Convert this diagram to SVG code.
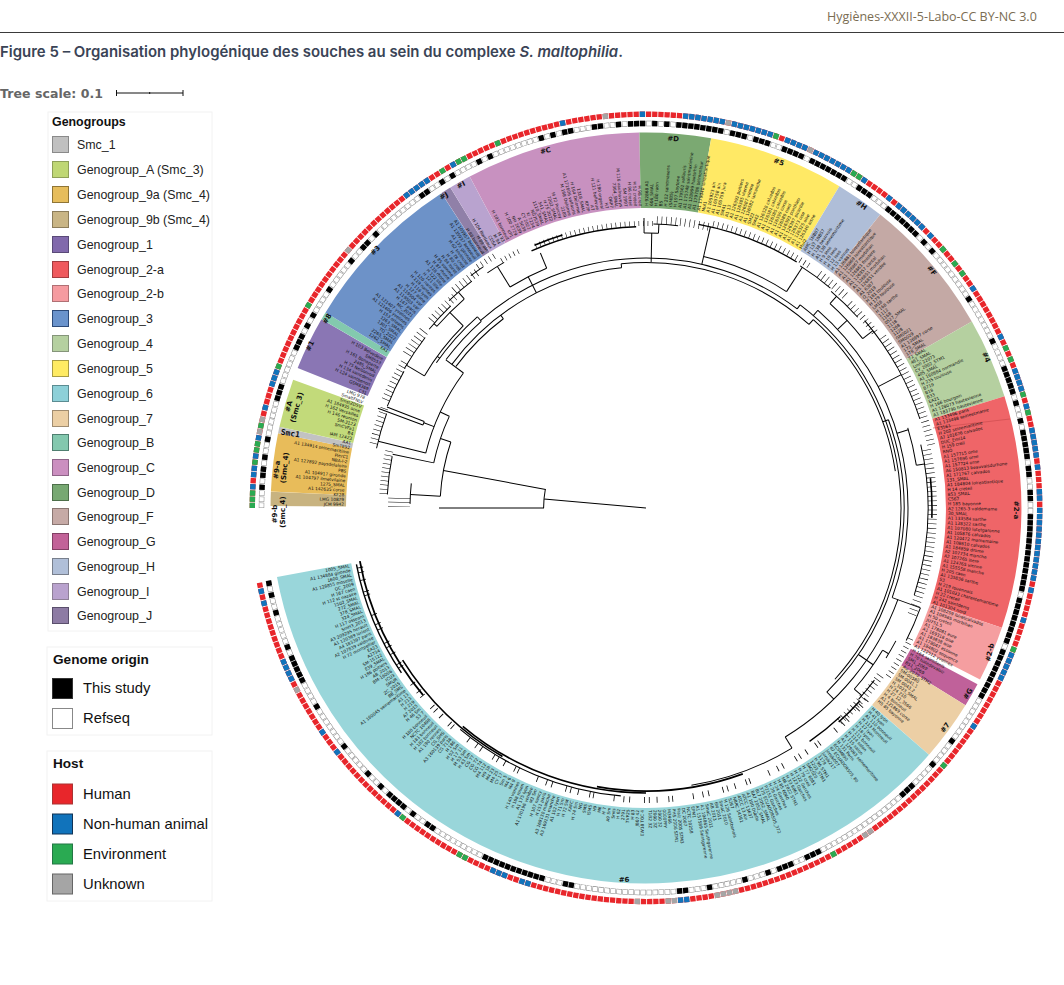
<svg xmlns="http://www.w3.org/2000/svg" width="1064" height="985" viewBox="0 0 1064 985">
<style>
text{font-family:"Liberation Sans",Arial,sans-serif}
.lg{font-size:12.4px;fill:#222}
.lt{font-size:12.4px;font-weight:700;fill:#111}
.lh{font-size:14.8px;fill:#111}
.lb{fill:#fff;stroke:#f2f2f2}
.w{fill:none;stroke-width:75.5}
.n{font-family:"DejaVu Sans",sans-serif;font-size:7px;font-weight:700;fill:#111;text-anchor:middle}
.a,.a circle,.a path{fill:none;stroke:#000;stroke-width:1}
.l text{font-family:"DejaVu Sans",sans-serif;font-size:4.3px;fill:#111}
.e text{text-anchor:end}
.r{fill:none;stroke-width:5.4}
</style>
<rect width="1064" height="985" fill="#fff"/>
<g id="header">
<text x="827" y="21" style="font-family:'Open Sans',sans-serif;font-size:12.5px;fill:#7a6c52">Hygiènes-XXXII-5-Labo-CC BY-NC 3.0</text>
<path d="M0 32.5H1064" stroke="#3a3a3a" stroke-width="1"/>
<text x="0" y="57" style="font-family:Inter,sans-serif;font-size:15px;font-weight:600;fill:#3a4456" textLength="623" lengthAdjust="spacingAndGlyphs">Figure 5 – Organisation phylogénique des souches au sein du complexe <tspan font-style="italic">S. maltophilia</tspan>.</text>
</g>
<g id="tree-scale">
<text x="0" y="98" style="font-family:'DejaVu Sans',sans-serif;font-size:12.5px;font-weight:700;fill:#666" textLength="103">Tree scale: 0.1</text>
<path d="M116.5 90v6M183 90v6M116.5 93H183M149.7 92v2" fill="none" stroke="#111"/>
</g>
<g id="legend-genogroups">
<rect class="lb" x="48" y="112" width="164" height="519"/>
<text class="lt" x="52" y="126">Genogroups</text>
<g stroke-width="1">
<g id="lg-smc1"><rect x="52.5" y="136.5" width="16" height="16" fill="#c0c0c0" stroke="#8a8a8a"/><text class="lg" x="77" y="149">Smc_1</text></g>
<g id="lg-a"><rect x="52.5" y="161.5" width="16" height="16" fill="#bfd774" stroke="#8ea058"/><text class="lg" x="77" y="174">Genogroup_A (Smc_3)</text></g>
<g id="lg-9a"><rect x="52.5" y="186.5" width="16" height="16" fill="#e6bd5c" stroke="#8f7536"/><text class="lg" x="77" y="199">Genogroup_9a (Smc_4)</text></g>
<g id="lg-9b"><rect x="52.5" y="211.5" width="16" height="16" fill="#c9b585" stroke="#8c7d5b"/><text class="lg" x="77" y="224">Genogroup_9b (Smc_4)</text></g>
<g id="lg-1"><rect x="52.5" y="236.5" width="16" height="16" fill="#8169ac" stroke="#5a4a78"/><text class="lg" x="77" y="249">Genogroup_1</text></g>
<g id="lg-2a"><rect x="52.5" y="261.5" width="16" height="16" fill="#ef5a5e" stroke="#a33d40"/><text class="lg" x="77" y="274">Genogroup_2-a</text></g>
<g id="lg-2b"><rect x="52.5" y="285.5" width="16" height="16" fill="#f59ba0" stroke="#b07074"/><text class="lg" x="77" y="298">Genogroup_2-b</text></g>
<g id="lg-3"><rect x="52.5" y="310.5" width="16" height="16" fill="#6a93cc" stroke="#2d4a78"/><text class="lg" x="77" y="323">Genogroup_3</text></g>
<g id="lg-4"><rect x="52.5" y="335.5" width="16" height="16" fill="#b5d0a0" stroke="#85957a"/><text class="lg" x="77" y="348">Genogroup_4</text></g>
<g id="lg-5"><rect x="52.5" y="360.5" width="16" height="16" fill="#ffeb63" stroke="#a89c44"/><text class="lg" x="77" y="373">Genogroup_5</text></g>
<g id="lg-6"><rect x="52.5" y="385.5" width="16" height="16" fill="#8dd0d8" stroke="#5b8c92"/><text class="lg" x="77" y="398">Genogroup_6</text></g>
<g id="lg-7"><rect x="52.5" y="410.5" width="16" height="16" fill="#eccfa4" stroke="#a08c70"/><text class="lg" x="77" y="423">Genogroup_7</text></g>
<g id="lg-b"><rect x="52.5" y="434.5" width="16" height="16" fill="#83c8ae" stroke="#4f7f70"/><text class="lg" x="77" y="447">Genogroup_B</text></g>
<g id="lg-c"><rect x="52.5" y="459.5" width="16" height="16" fill="#cb8fc0" stroke="#8e6488"/><text class="lg" x="77" y="472">Genogroup_C</text></g>
<g id="lg-d"><rect x="52.5" y="484.5" width="16" height="16" fill="#77a872" stroke="#4d6f4a"/><text class="lg" x="77" y="497">Genogroup_D</text></g>
<g id="lg-f"><rect x="52.5" y="508.5" width="16" height="16" fill="#c6aaa6" stroke="#8a7672"/><text class="lg" x="77" y="521">Genogroup_F</text></g>
<g id="lg-g"><rect x="52.5" y="533.5" width="16" height="16" fill="#c26298" stroke="#823f64"/><text class="lg" x="77" y="546">Genogroup_G</text></g>
<g id="lg-h"><rect x="52.5" y="558.5" width="16" height="16" fill="#b0bfd8" stroke="#787f8c"/><text class="lg" x="77" y="571">Genogroup_H</text></g>
<g id="lg-i"><rect x="52.5" y="583.5" width="16" height="16" fill="#b9a2ce" stroke="#8f8098"/><text class="lg" x="77" y="596">Genogroup_I</text></g>
<g id="lg-j"><rect x="52.5" y="607.5" width="16" height="16" fill="#8d7ba4" stroke="#5a4f6c"/><text class="lg" x="77" y="620">Genogroup_J</text></g>
</g>
</g>
<g id="legend-origin">
<rect class="lb" x="47" y="647" width="165" height="88"/>
<text x="53" y="664" style="font-size:13.6px;font-weight:700;fill:#111">Genome origin</text>
<g id="lg-study"><rect x="52.5" y="678.5" width="20" height="20" fill="#000" stroke="#333"/><text class="lh" x="83" y="693">This study</text></g>
<g id="lg-refseq"><rect x="52.5" y="708.5" width="20" height="20" fill="#fff" stroke="#888"/><text class="lh" x="83" y="723">Refseq</text></g>
</g>
<g id="legend-host">
<rect class="lb" x="47" y="751" width="165" height="150"/>
<text x="53" y="768" style="font-size:13.6px;font-weight:700;fill:#111">Host</text>
<g id="lg-human"><rect x="52.5" y="784" width="20" height="20" fill="#e8262b" stroke="#a33"/><text class="lh" x="83" y="799">Human</text></g>
<g id="lg-animal"><rect x="52.5" y="814" width="20" height="20" fill="#1173bb" stroke="#135"/><text class="lh" x="83" y="829">Non-human animal</text></g>
<g id="lg-env"><rect x="52.5" y="844" width="20" height="20" fill="#2aaa52" stroke="#274"/><text class="lh" x="83" y="859">Environment</text></g>
<g id="lg-unknown"><rect x="52.5" y="874" width="20" height="20" fill="#a5a5a5" stroke="#666"/><text class="lh" x="83" y="889">Unknown</text></g>
</g>
<g id="rings">
<g id="host-ring" class="r">
<path d="M252.3 508A393.7 393.7 0 1 1 259.3 581.8" pathLength="388" class="r" stroke="#e8262b" stroke-dasharray=".86 .14"/>
<path d="M252.3 508A393.7 393.7 0 1 1 259.3 581.8" pathLength="388" class="r" stroke="#1173bb" stroke-dasharray="0 3 .86 1.14 .86 .14 .86 1.14 .86 2.14 .86 4.14 .86 3.14 .86 .14 .86 .14 .86 35.14 .86 .14 .86 .14 .86 .14 .86 .14 .86 4.14 .86 18.14 .86 12.14 .86 6.14 .86 .14 .86 .14 .86 .14 .86 .14 .86 .14 .86 .14 .86 1.14 .86 .14 .86 .14 .86 .14 .86 .14 .86 .14 .86 .14 .86 2.14 .86 .14 .86 .14 .86 .14 .86 1.14 .86 .14 .86 .14 .86 .14 .86 .14 .86 .14 .86 .14 .86 2.14 .86 4.14 .86 1.14 .86 .14 .86 .14 .86 .14 .86 .14 .86 .14 .86 1.14 .86 10.14 .86 8.14 .86 5.14 .86 .14 .86 .14 .86 .14 .86 2.14 .86 3.14 .86 .14 .86 .14 .86 .14 .86 .14 .86 1.14 .86 3.14 .86 .14 .86 1.14 .86 .14 .86 .14 .86 .14 .86 .14 .86 .14 .86 .14 .86 .14 .86 .14 .86 .14 .86 .14 .86 .14 .86 1.14 .86 4.14 .86 5.14 .86 .14 .86 .14 .86 .14 .86 .14 .86 8.14 .86 55.14 .86 .14 .86 24.14 .86 .14 .86 2.14 .86 .14 .86 .14 .86 17.14 .86 13.14 .86 3.14 .86 9.14 .86 .14 .86 .14 .86 .14 .86 9.14 .86 1.14 .86 999"/>
<path d="M252.3 508A393.7 393.7 0 1 1 259.3 581.8" pathLength="388" class="r" stroke="#2aaa52" stroke-dasharray=".86 .14 .86 .14 .86 4.14 .86 1.14 .86 .14 .86 2.14 .86 9.14 .86 10.14 .86 30.14 .86 2.14 .86 .14 .86 5.14 .86 45.14 .86 13.14 .86 .14 .86 17.14 .86 2.14 .86 1.14 .86 13.14 .86 1.14 .86 5.14 .86 2.14 .86 38.14 .86 21.14 .86 22.14 .86 61.14 .86 .14 .86 10.14 .86 999"/>
<path d="M252.3 508A393.7 393.7 0 1 1 259.3 581.8" pathLength="388" class="r" stroke="#a5a5a5" stroke-dasharray="0 12 .86 1.14 .86 30.14 .86 47.14 .86 19.14 .86 13.14 .86 133.14 .86 .14 .86 22.14 .86 .14 .86 .14 .86 .14 .86 6.14 .86 .14 .86 4.14 .86 67.14 .86 999"/>
</g>
<g id="origin-ring">
<path d="M261.5 508A384.5 384.5 0 1 1 268.3 580" pathLength="388" fill="none" stroke="#8a8a8a" stroke-width="5.4" stroke-dasharray=".9 .1"/>
<path d="M261.5 508A384.5 384.5 0 1 1 268.3 580" pathLength="388" fill="none" stroke="#fff" stroke-width="4.4" stroke-dasharray=".74 .26" stroke-dashoffset="-.08"/>
<path d="M261.5 508A384.5 384.5 0 1 1 268.3 580" pathLength="388" fill="none" stroke="#000" stroke-width="5.4" stroke-dasharray="0 3 .86 1.14 .86 .14 .86 1.14 .86 2.14 .86 6.14 .86 .14 .86 .14 .86 6.14 .86 .14 .86 .14 .86 1.14 .86 1.14 .86 4.14 .86 5.14 .86 2.14 .86 .14 .86 1.14 .86 9.14 .86 .14 .86 2.14 .86 1.14 .86 4.14 .86 1.14 .86 8.14 .86 1.14 .86 1.14 .86 .14 .86 3.14 .86 .14 .86 2.14 .86 1.14 .86 .14 .86 .14 .86 1.14 .86 1.14 .86 1.14 .86 .14 .86 .14 .86 .14 .86 .14 .86 .14 .86 .14 .86 .14 .86 1.14 .86 .14 .86 .14 .86 1.14 .86 .14 .86 .14 .86 2.14 .86 .14 .86 .14 .86 .14 .86 1.14 .86 .14 .86 .14 .86 .14 .86 .14 .86 .14 .86 .14 .86 2.14 .86 .14 .86 .14 .86 3.14 .86 .14 .86 .14 .86 .14 .86 .14 .86 .14 .86 .14 .86 1.14 .86 1.14 .86 9.14 .86 7.14 .86 4.14 .86 .14 .86 .14 .86 .14 .86 .14 .86 1.14 .86 2.14 .86 1.14 .86 .14 .86 .14 .86 .14 .86 .14 .86 1.14 .86 .14 .86 2.14 .86 .14 .86 2.14 .86 .14 .86 .14 .86 .14 .86 .14 .86 .14 .86 .14 .86 .14 .86 .14 .86 .14 .86 .14 .86 .14 .86 .14 .86 1.14 .86 .14 .86 .14 .86 .14 .86 .14 .86 .14 .86 .14 .86 .14 .86 1.14 .86 .14 .86 .14 .86 .14 .86 .14 .86 .14 .86 .14 .86 .14 .86 .14 .86 8.14 .86 4.14 .86 4.14 .86 .14 .86 .14 .86 16.14 .86 .14 .86 .14 .86 2.14 .86 .14 .86 .14 .86 1.14 .86 3.14 .86 5.14 .86 3.14 .86 .14 .86 17.14 .86 .14 .86 3.14 .86 .14 .86 .14 .86 .14 .86 .14 .86 .14 .86 .14 .86 .14 .86 .14 .86 .14 .86 .14 .86 9.14 .86 .14 .86 2.14 .86 1.14 .86 .14 .86 .14 .86 .14 .86 1.14 .86 2.14 .86 5.14 .86 7.14 .86 4.14 .86 .14 .86 .14 .86 .14 .86 .14 .86 1.14 .86 5.14 .86 2.14 .86 1.14 .86 999"/>
</g>
</g>
<g transform="translate(646 508)">
<g id="clades">
<g id="clade-9b"><circle class="w" r="337.7" pathLength="360" stroke="#c8b380" stroke-dasharray="2.2 999" transform="rotate(180.3)"/></g>
<g id="clade-9a"><circle class="w" r="337.7" pathLength="360" stroke="#e8bc5a" stroke-dasharray="9 999" transform="rotate(182.5)"/></g>
<g id="clade-smc1"><circle class="w" r="337.7" pathLength="360" stroke="#c2c2c2" stroke-dasharray="1 999" transform="rotate(191.5)"/></g>
<g id="clade-a"><circle class="w" r="337.7" pathLength="360" stroke="#c2da7a" stroke-dasharray="7.5 999" transform="rotate(192.5)"/></g>
<g id="clade-1"><circle class="w" r="337.7" pathLength="360" stroke="#8a76b4" stroke-dasharray="8.3 999" transform="rotate(201.9)"/></g>
<g id="clade-b"><circle class="w" r="337.7" pathLength="360" stroke="#83c9ae" stroke-dasharray="1.2 999" transform="rotate(210.2)"/></g>
<g id="clade-3"><circle class="w" r="337.7" pathLength="360" stroke="#6d92c8" stroke-dasharray="25.6 999" transform="rotate(211.4)"/></g>
<g id="clade-j"><circle class="w" r="337.7" pathLength="360" stroke="#9080a8" stroke-dasharray="1.6 999" transform="rotate(237)"/></g>
<g id="clade-i"><circle class="w" r="337.7" pathLength="360" stroke="#b9a3cf" stroke-dasharray="3.4 999" transform="rotate(238.6)"/></g>
<g id="clade-c"><circle class="w" r="337.7" pathLength="360" stroke="#c891c0" stroke-dasharray="27 999" transform="rotate(242)"/></g>
<g id="clade-d"><circle class="w" r="337.7" pathLength="360" stroke="#7ba972" stroke-dasharray="11 999" transform="rotate(269)"/></g>
<g id="clade-5"><circle class="w" r="337.7" pathLength="360" stroke="#ffe965" stroke-dasharray="21 999" transform="rotate(280)"/></g>
<g id="clade-h"><circle class="w" r="337.7" pathLength="360" stroke="#afbed8" stroke-dasharray="7.6 999" transform="rotate(301)"/></g>
<g id="clade-f"><circle class="w" r="337.7" pathLength="360" stroke="#c4a9a5" stroke-dasharray="21.6 999" transform="rotate(308.6)"/></g>
<g id="clade-4"><circle class="w" r="337.7" pathLength="360" stroke="#b5d0a0" stroke-dasharray="12.5 999" transform="rotate(330.2)"/></g>
<g id="clade-2a"><circle class="w" r="337.7" pathLength="360" stroke="#ef6568" stroke-dasharray="35.9 999" transform="rotate(342.7)"/><path d="M287 -80L364 -89" stroke="#c8484c" stroke-width=".6"/></g>
<g id="clade-2b"><circle class="w" r="337.7" pathLength="360" stroke="#f59ea0" stroke-dasharray="8.6 999" transform="rotate(18.6)"/></g>
<g id="clade-g"><circle class="w" r="337.7" pathLength="360" stroke="#c0619a" stroke-dasharray="3.7 999" transform="rotate(28)"/></g>
<g id="clade-7"><circle class="w" r="337.7" pathLength="360" stroke="#eccfa5" stroke-dasharray="9.4 999" transform="rotate(31.7)"/></g>
<g id="clade-6"><circle class="w" r="337.7" pathLength="360" stroke="#99d6da" stroke-dasharray="128.3 999" transform="rotate(41.1)"/></g>
</g>
<g id="connectors" class="a">
<path d="M0 0H102.4" stroke-width="1.1" transform="rotate(185)"/><circle r="102.4" pathLength="360" stroke-dasharray="10.6 999" transform="rotate(180)"/><path d="M102 0H207" transform="rotate(180)"/><path d="M102 0H206" transform="rotate(190.5)"/>
<circle r="206" pathLength="360" stroke-dasharray="15.4 999" transform="rotate(183.3)"/><path d="M206 0H236" transform="rotate(183.3)"/><path d="M206 0H217" transform="rotate(198.7)"/>
<circle r="217" pathLength="360" stroke-dasharray="13 999" transform="rotate(192)"/><path d="M217 0H259" transform="rotate(192)"/><path d="M217 0H227" transform="rotate(205)"/>
<circle r="227" pathLength="360" stroke-dasharray="22.4 999" transform="rotate(194)"/><path d="M227 0H276" transform="rotate(194)"/><path d="M227 0H238" transform="rotate(201)"/><circle r="238" pathLength="360" stroke-dasharray=".9 999" transform="rotate(200.4)"/><path d="M238 0H286" transform="rotate(200.4)"/><path d="M238 0H278" transform="rotate(201.3)"/>
<path d="M227 0H249" transform="rotate(216.5)"/><circle r="241.5" pathLength="360" stroke-dasharray="47.7 999" transform="rotate(216.5)"/><circle r="237" pathLength="360" stroke-dasharray="16.3 999" transform="rotate(216.7)"/><path d="M237 0H241.5" transform="rotate(233)"/><path d="M241.5 0H245.5" transform="rotate(264.2)"/>
<circle r="255" pathLength="360" stroke-dasharray="13.9 999" transform="rotate(214.7)"/><circle r="249" pathLength="360" stroke-dasharray="12 999" transform="rotate(216.6)"/><path d="M249 0H255" transform="rotate(228.6)"/><path d="M255 0H258" transform="rotate(216)"/>
<circle r="258" pathLength="360" stroke-dasharray="14.1 999" transform="rotate(210.8)"/><path d="M258 0H279" transform="rotate(210.8)"/><path d="M258 0H277" transform="rotate(224.9)"/>
<circle r="277" pathLength="360" stroke-dasharray="8 999" transform="rotate(221)"/><path d="M277 0H281" transform="rotate(221)"/><path d="M277 0H286" transform="rotate(229)"/>
<circle r="236" pathLength="360" stroke-dasharray="5 999" transform="rotate(181)"/><circle r="259" pathLength="360" stroke-dasharray="8.5 999" transform="rotate(183)"/><circle r="276" pathLength="360" stroke-dasharray="7.5 999" transform="rotate(192.5)"/><circle r="278" pathLength="360" stroke-dasharray="8 999" transform="rotate(201.5)"/><circle r="279" pathLength="360" stroke-dasharray="7.7 999" transform="rotate(210)"/><circle r="281" pathLength="360" stroke-dasharray="6.5 999" transform="rotate(219.5)"/><circle r="286" pathLength="360" stroke-dasharray="6 999" transform="rotate(226.5)"/><circle r="291" pathLength="360" stroke-dasharray="3 999" transform="rotate(233)"/>
<path d="M241.5 0H259.5" transform="rotate(243)"/><circle r="259.5" pathLength="360" stroke-dasharray="9.1 999" transform="rotate(238.4)"/><path d="M259.5 0H283.6" transform="rotate(238.4)"/><circle r="283.6" pathLength="360" stroke-dasharray="4 999" transform="rotate(236)"/><path d="M259.5 0H276" transform="rotate(247.5)"/>
<circle r="281.5" pathLength="360" stroke-dasharray="22 999" style="stroke-width:1.5" transform="rotate(246)"/><circle r="285.5" pathLength="360" stroke-dasharray="6 999" style="stroke-width:1.6" transform="rotate(247)"/>
<circle r="250" pathLength="360" stroke-dasharray="78.6 999" transform="rotate(228.6)"/><circle r="245.5" pathLength="360" stroke-dasharray="47.4 999" transform="rotate(264.2)"/><path d="M250 0H255" transform="rotate(307.2)"/><path d="M245.5 0H252" transform="rotate(311.6)"/>
<path d="M246 0H275" transform="rotate(271.2)"/><circle r="275" pathLength="360" stroke-dasharray="3 999" transform="rotate(269.6)"/><path d="M275 0H290" transform="rotate(269.6)"/><path d="M275 0H284" transform="rotate(272.6)"/><circle r="284" pathLength="360" stroke-dasharray="5 999" transform="rotate(271.5)"/>
<path d="M250 0H288.5" transform="rotate(282.9)"/><circle r="258" pathLength="360" stroke-dasharray="20.1 999" transform="rotate(282.9)"/><circle r="288.5" pathLength="360" stroke-dasharray="21 999" style="stroke-width:1.3" transform="rotate(280.5)"/>
<path d="M258 0H287" transform="rotate(303)"/><circle r="287" pathLength="360" stroke-dasharray="7.5 999" transform="rotate(302.5)"/>
<circle r="252" pathLength="360" stroke-dasharray="40 999" transform="rotate(311.6)"/><circle r="255" pathLength="360" stroke-dasharray="95 999" transform="rotate(307.2)"/><circle r="258" pathLength="360" stroke-dasharray="65.5 999" transform="rotate(340)"/><path d="M252 0H258" transform="rotate(340)"/><circle r="262" pathLength="360" stroke-dasharray="69 999" transform="rotate(311)"/><path d="M255 0H262" transform="rotate(311)"/><path d="M262 0H292" transform="rotate(20)"/><circle r="292" pathLength="360" stroke-dasharray="7 999" transform="rotate(20)"/>
<path d="M262 0H275" transform="rotate(317)"/><circle r="275" pathLength="360" stroke-dasharray="10 999" transform="rotate(312)"/><path d="M275 0H285" transform="rotate(312)"/><path d="M275 0H288" transform="rotate(322)"/><circle r="285" pathLength="360" stroke-dasharray="7.5 999" transform="rotate(310.5)"/><circle r="288" pathLength="360" stroke-dasharray="11.6 999" transform="rotate(319.4)"/>
<path d="M262 0H288" transform="rotate(332.4)"/><circle r="288" pathLength="360" stroke-dasharray="11 999" transform="rotate(331)"/>
<path d="M262 0H273.7" transform="rotate(343.4)"/><circle r="273.7" pathLength="360" stroke-dasharray="8 999" transform="rotate(343)"/><path d="M273.7 0H282" transform="rotate(351)"/><circle r="282" pathLength="360" stroke-dasharray="31 999" transform="rotate(347)"/><circle r="286" pathLength="360" stroke-dasharray="8 999" style="stroke-width:1.6" transform="rotate(354)"/>
<path d="M258 0H268" transform="rotate(45.5)"/><circle r="268" pathLength="360" stroke-dasharray="38.7 999" transform="rotate(20)"/><path d="M268 0H281" transform="rotate(58.7)"/>
<path d="M258 0H276" transform="rotate(34.6)"/><circle r="276" pathLength="360" stroke-dasharray="10 999" transform="rotate(31)"/><path d="M276 0H283" transform="rotate(31)"/><circle r="283" pathLength="360" stroke-dasharray="4 999" transform="rotate(28)"/><path d="M276 0H286" transform="rotate(41)"/><circle r="286" pathLength="360" stroke-dasharray="5 999" transform="rotate(37)"/>
<circle r="288" pathLength="360" stroke-dasharray="6 999" style="stroke-width:1.6" transform="rotate(42)"/><circle r="285" pathLength="360" stroke-dasharray="8 999" style="stroke-width:1.3" transform="rotate(47)"/>
<circle r="281" pathLength="360" stroke-dasharray="22 999" transform="rotate(58.7)"/><circle r="283" pathLength="360" stroke-dasharray="30 999" style="stroke-width:1.8" transform="rotate(70)"/><circle r="285" pathLength="360" stroke-dasharray="40 999" style="stroke-width:1.6" transform="rotate(90)"/><circle r="287" pathLength="360" stroke-dasharray="28 999" style="stroke-width:1.6" transform="rotate(120)"/><circle r="291" pathLength="360" stroke-dasharray="29.5 999" style="stroke-width:1.8" transform="rotate(140)"/><circle r="295" pathLength="360" stroke-dasharray="23 999" style="stroke-width:1.4" transform="rotate(146)"/><circle r="289" pathLength="360" stroke-dasharray="35 999" style="stroke-width:1.2" transform="rotate(95)"/>
<path d="M866.4 699.6A292 292 0 0 1 359.4 563.7" transform="translate(-646 -508)" stroke-dasharray=".8 7 .8 4 .8 14 .8 5 .8 9 .8 20 .8 3 .8 11" style="stroke-width:6"/>
<g id="combs">
<circle r="247" style="stroke-width:22" pathLength="388" transform="rotate(180)" stroke-dasharray="0 .37 .12 .88 .12 .88 .12 999"/>
<circle r="263" style="stroke-width:8" pathLength="388" transform="rotate(180)" stroke-dasharray="0 3.37 .12 .88 .12 .88 .12 .88 .12 .88 .12 .88 .12 .88 .12 .88 .12 .88 .12 .88 .12 .88 .12 999"/>
<circle r="280" style="stroke-width:8" pathLength="388" transform="rotate(180)" stroke-dasharray="0 14.37 .12 .88 .12 .88 .12 .88 .12 .88 .12 .88 .12 .88 .12 .88 .12 .88 .12 999"/>
<circle r="282" style="stroke-width:8" pathLength="388" transform="rotate(180)" stroke-dasharray="0 24.37 .12 .88 .12 .88 .12 .88 .12 .88 .12 .88 .12 .88 .12 .88 .12 .88 .12 .88 .12 999"/>
<circle r="284" style="stroke-width:10" pathLength="388" transform="rotate(180)" stroke-dasharray="0 35.37 .12 .88 .12 .88 .12 .88 .12 .88 .12 .88 .12 .88 .12 999"/>
<circle r="285" style="stroke-width:8" pathLength="388" transform="rotate(180)" stroke-dasharray="0 44.37 .12 .88 .12 .88 .12 .88 .12 .88 .12 .88 .12 .88 .12 .88 .12 999"/>
<circle r="290" style="stroke-width:8" pathLength="388" transform="rotate(180)" stroke-dasharray="0 52.37 .12 .88 .12 .88 .12 .88 .12 .88 .12 .88 .12 .88 .12 999"/>
<circle r="294" style="stroke-width:6" pathLength="388" transform="rotate(180)" stroke-dasharray="0 59.37 .12 .88 .12 .88 .12 .88 .12 .88 .12 999"/>
<circle r="286.5" style="stroke-width:5" pathLength="388" transform="rotate(180)" stroke-dasharray="0 64.37 .12 .88 .12 .88 .12 .88 .12 .88 .12 999"/>
<circle r="284.5" style="stroke-width:5" pathLength="388" transform="rotate(180)" stroke-dasharray="0 72.37 .12 .88 .12 .88 .12 .88 .12 .88 .12 .88 .12 .88 .12 .88 .12 .88 .12 .88 .12 .88 .12 .88 .12 .88 .12 .88 .12 .88 .12 .88 .12 .88 .12 .88 .12 .88 .12 .88 .12 .88 .12 .88 .12 .88 .12 .88 .12 .88 .12 .88 .12 .88 .12 999"/>
<circle r="288" style="stroke-width:8" pathLength="388" transform="rotate(180)" stroke-dasharray="0 99.37 .12 .88 .12 .88 .12 .88 .12 .88 .12 .88 .12 .88 .12 .88 .12 .88 .12 .88 .12 .88 .12 .88 .12 999"/>
<circle r="292" style="stroke-width:6" pathLength="388" transform="rotate(180)" stroke-dasharray="0 111.37 .12 .88 .12 .88 .12 .88 .12 .88 .12 .88 .12 .88 .12 .88 .12 .88 .12 .88 .12 .88 .12 .88 .12 .88 .12 .88 .12 .88 .12 .88 .12 .88 .12 .88 .12 .88 .12 .88 .12 .88 .12 .88 .12 .88 .12 999"/>
<circle r="291" style="stroke-width:8" pathLength="388" transform="rotate(180)" stroke-dasharray="0 136.37 .12 .88 .12 .88 .12 .88 .12 .88 .12 .88 .12 .88 .12 .88 .12 999"/>
<circle r="288.5" style="stroke-width:7" pathLength="388" transform="rotate(180)" stroke-dasharray="0 145.37 .12 .88 .12 .88 .12 .88 .12 .88 .12 .88 .12 .88 .12 .88 .12 .88 .12 999"/>
<circle r="292" style="stroke-width:8" pathLength="388" transform="rotate(180)" stroke-dasharray="0 155.37 .12 .88 .12 .88 .12 .88 .12 .88 .12 .88 .12 .88 .12 .88 .12 .88 .12 .88 .12 .88 .12 .88 .12 .88 .12 .88 .12 999"/>
<circle r="292" style="stroke-width:8" pathLength="388" transform="rotate(180)" stroke-dasharray="0 169.37 .12 .88 .12 .88 .12 .88 .12 .88 .12 .88 .12 .88 .12 .88 .12 .88 .12 .88 .12 .88 .12 .88 .12 999"/>
<circle r="286.5" style="stroke-width:9" pathLength="388" transform="rotate(180)" stroke-dasharray="0 181.37 .12 .88 .12 .88 .12 .88 .12 .88 .12 .88 .12 .88 .12 .88 .12 .88 .12 .88 .12 .88 .12 .88 .12 .88 .12 .88 .12 .88 .12 .88 .12 .88 .12 .88 .12 .88 .12 .88 .12 .88 .12 .88 .12 .88 .12 .88 .12 .88 .12 .88 .12 .88 .12 .88 .12 .88 .12 .88 .12 .88 .12 .88 .12 .88 .12 .88 .12 .88 .12 .88 .12 .88 .12 999"/>
<circle r="295" style="stroke-width:6" pathLength="388" transform="rotate(180)" stroke-dasharray="0 222.37 .12 .88 .12 .88 .12 .88 .12 .88 .12 .88 .12 .88 .12 .88 .12 .88 .12 .88 .12 999"/>
<circle r="288" style="stroke-width:8" pathLength="388" transform="rotate(180)" stroke-dasharray="0 232.37 .12 .88 .12 .88 .12 .88 .12 .88 .12 .88 .12 .88 .12 .88 .12 .88 .12 .88 .12 .88 .12 .88 .12 .88 .12 .88 .12 999"/>
</g>
</g>
<g id="leaf-labels" class="l">
<g class="e">
<text transform="rotate(.4)" x="-302">JCM 9942</text><text transform="rotate(1.3)" x="-302">LMG 10879</text><text transform="rotate(2.2)" x="-302">KF28</text><text transform="rotate(3.1)" x="-302">A1 142635 corse</text><text transform="rotate(4)" x="-302">1275_SMAL</text><text transform="rotate(4.9)" x="-302">A1 104797 ilmetvilaine</text><text transform="rotate(5.8)" x="-302">A1 104917 gironde</text><text transform="rotate(6.7)" x="-302">PBS</text><text transform="rotate(7.6)" x="-302">A1 127892 paysdelaloire</text><text transform="rotate(8.5)" x="-302">NBA-I-2</text><text transform="rotate(9.4)" x="-302">PierC1</text><text transform="rotate(10.3)" x="-302">A1 134914 seinemaritime</text><text transform="rotate(11.2)" x="-302">SmTE92</text><text transform="rotate(12.1)" x="-302">AA1</text>
<text transform="rotate(13)" x="-302">IAM 12423</text><text transform="rotate(13.9)" x="-302">B4</text><text transform="rotate(14.8)" x="-302">SmCVFa1</text><text transform="rotate(15.7)" x="-302">SM-3123</text><text transform="rotate(16.6)" x="-302">H 146 reunion</text><text transform="rotate(17.5)" x="-302">H 162 Versailles</text><text transform="rotate(18.4)" x="-302">A1 184935 orne</text><text transform="rotate(19.3)" x="-302">SmstZDSV</text><text transform="rotate(20.2)" x="-302">SmaltFNLV</text><text transform="rotate(21.1)" x="-302">LMG 978</text>
<text transform="rotate(22)" x="-302">C31</text><text transform="rotate(22.9)" x="-302">GSM8369</text><text transform="rotate(23.8)" x="-302">H 124 saintbenoit</text><text transform="rotate(24.7)" x="-302">H 134 saintdenis</text><text transform="rotate(25.6)" x="-302">H 75 Nelsonrod</text><text transform="rotate(26.5)" x="-302">2485_SMAL</text><text transform="rotate(27.4)" x="-302">H 161 Bonaparte</text><text transform="rotate(28.3)" x="-302">SM8553</text><text transform="rotate(29.2)" x="-302">H 103 Belvedere</text><text transform="rotate(31)" x="-302">EA1</text>
<text transform="rotate(31.9)" x="-302">1262_SMAL</text><text transform="rotate(32.8)" x="-302">2265_SMAL</text><text transform="rotate(33.7)" x="-302">TO_2022</text><text transform="rotate(34.6)" x="-302">1301_SMAL</text><text transform="rotate(35.5)" x="-302">1263_SMAL</text><text transform="rotate(36.4)" x="-302">H 153 orleans</text><text transform="rotate(37.3)" x="-302">A1 121406 yvelines</text><text transform="rotate(38.2)" x="-302">A1 121407 yvelines</text><text transform="rotate(39.1)" x="-302">MC_2021</text><text transform="rotate(40)" x="-302">H 147 paris</text><text transform="rotate(40.9)" x="-302">A1 119503 var</text><text transform="rotate(41.8)" x="-302">A1 119504 var</text><text transform="rotate(42.7)" x="-302">H 127 aisne</text><text transform="rotate(43.6)" x="-302">H 116 lyon</text><text transform="rotate(44.5)" x="-302">H 119 nantes</text><text transform="rotate(45.4)" x="-302">H 120 nantes</text><text transform="rotate(46.3)" x="-302">H 121 lille</text><text transform="rotate(47.2)" x="-302">H 122 lille</text><text transform="rotate(48.1)" x="-302">A1 118 rhone</text><text transform="rotate(49)" x="-302">H 87 rhone</text><text transform="rotate(49.9)" x="-302">H 85 somme</text><text transform="rotate(50.8)" x="-302">H 84 loiret</text><text transform="rotate(51.7)" x="-302">H 80 creil</text><text transform="rotate(52.6)" x="-302">H 78 creil</text><text transform="rotate(53.5)" x="-302">H 62 toulouse</text><text transform="rotate(54.4)" x="-302">A1 133 gironde</text><text transform="rotate(55.3)" x="-302">A1 135937 bonneuil</text><text transform="rotate(56.2)" x="-302">A1 105957 bonneuil</text>
<text transform="rotate(57.1)" x="-302">H 88 bonneuil</text><text transform="rotate(58)" x="-302">H 89 ain</text><text transform="rotate(58.9)" x="-302">H 104 Bordeaux</text><text transform="rotate(59.8)" x="-302">CDSA</text><text transform="rotate(60.7)" x="-302">M 94</text><text transform="rotate(61.6)" x="-302">M 93</text>
<text transform="rotate(62.5)" x="-302">H 101 bonneuil</text><text transform="rotate(63.4)" x="-302">KP1</text><text transform="rotate(64.3)" x="-302">H 100 2729</text><text transform="rotate(65.2)" x="-302">NH 2039</text><text transform="rotate(66.1)" x="-302">A 5039</text><text transform="rotate(67)" x="-302">CY 2022</text><text transform="rotate(67.9)" x="-302">KI 7234</text><text transform="rotate(68.8)" x="-302">NG7539</text><text transform="rotate(69.7)" x="-302">1110_SMAL</text><text transform="rotate(70.6)" x="-302">541_SMAL</text><text transform="rotate(71.5)" x="-302">H 75 2022</text><text transform="rotate(72.4)" x="-302">7202_SMAL</text><text transform="rotate(73.3)" x="-302">M 72 Poncey</text><text transform="rotate(74.2)" x="-302">2289</text><text transform="rotate(75.1)" x="-302">M 168 Delorme</text><text transform="rotate(76)" x="-302">A1 171606 vallauris</text><text transform="rotate(76.9)" x="-302">H 164 Delorme</text><text transform="rotate(77.8)" x="-302">1318_SMAL</text><text transform="rotate(78.7)" x="-302">KP7P</text><text transform="rotate(79.6)" x="-302">A7</text><text transform="rotate(80.5)" x="-302">H 121 bellevue</text><text transform="rotate(81.4)" x="-302">H 180 orgeval</text><text transform="rotate(82.3)" x="-302">H7</text><text transform="rotate(83.2)" x="-302">OAP7</text><text transform="rotate(84.1)" x="-302">7364_SMAL</text><text transform="rotate(85)" x="-302">M 116 vaulnaveys</text><text transform="rotate(85.9)" x="-302">SM 1997</text><text transform="rotate(86.8)" x="-302">H 96 creteil</text><text transform="rotate(87.7)" x="-302">H 52 creteil</text><text transform="rotate(88.6)" x="-302">H 98 creil</text>
<text transform="rotate(-89.6)" x="-302">EW18 T0C 4</text><text transform="rotate(-88.7)" x="-302">JB07 42</text><text transform="rotate(-87.8)" x="-302">H 83</text><text transform="rotate(-86.9)" x="-302">TVP25</text><text transform="rotate(-86)" x="-302">2791</text><text transform="rotate(-85.1)" x="-302">H 62</text><text transform="rotate(-84.2)" x="-302">SmIs</text><text transform="rotate(-83.3)" x="-302">A9 Sm</text><text transform="rotate(-82.4)" x="-302">H 7</text><text transform="rotate(-81.5)" x="-302">M6</text><text transform="rotate(-80.6)" x="-302">H9</text><text transform="rotate(-79.7)" x="-302">ISMS</text><text transform="rotate(-78.8)" x="-302">SMS</text><text transform="rotate(-77.9)" x="-302">NG</text><text transform="rotate(-77)" x="-302">H 74 Sm</text><text transform="rotate(-76.1)" x="-302">KAFC</text><text transform="rotate(-75.2)" x="-302">H 72 SM</text><text transform="rotate(-74.3)" x="-302">H 71 Sm</text><text transform="rotate(-73.4)" x="-302">A1 102 lyon</text><text transform="rotate(-72.5)" x="-302">A3 169131 manche</text><text transform="rotate(-71.6)" x="-302">A3 169130 manche</text><text transform="rotate(-70.7)" x="-302">H 151 paris</text><text transform="rotate(-69.8)" x="-302">H 107 nancy</text><text transform="rotate(-68.9)" x="-302">M2 Sm</text><text transform="rotate(-68)" x="-302">A1 170196 vendee</text><text transform="rotate(-67.1)" x="-302">A1 175 lyon</text><text transform="rotate(-66.2)" x="-302">H 168 rouen</text><text transform="rotate(-65.3)" x="-302">H 140 vannes</text>
<text transform="rotate(-64.4)" x="-302">M4 9</text><text transform="rotate(-63.5)" x="-302">M4 6</text><text transform="rotate(-62.6)" x="-302">Sm 5</text><text transform="rotate(-61.7)" x="-302">CY 17</text><text transform="rotate(-60.8)" x="-302">M4 25</text><text transform="rotate(-59.9)" x="-302">M4 23</text><text transform="rotate(-59)" x="-302">H9 18</text><text transform="rotate(-58.1)" x="-302">M4 112</text><text transform="rotate(-57.2)" x="-302">CG 74</text><text transform="rotate(-56.3)" x="-302">CG 72</text><text transform="rotate(-55.4)" x="-302">CG 77</text><text transform="rotate(-54.5)" x="-302">H 43 Sm</text><text transform="rotate(-53.6)" x="-302">M 53 Sm</text><text transform="rotate(-52.7)" x="-302">H 17 11</text><text transform="rotate(-51.8)" x="-302">H 52 Sm</text><text transform="rotate(-50.9)" x="-302">H 186</text><text transform="rotate(-50)" x="-302">CG 7138</text><text transform="rotate(-49.1)" x="-302">A3 160139 paris</text><text transform="rotate(-48.2)" x="-302">CG_SMS</text><text transform="rotate(-47.3)" x="-302">A1 190 rennes</text><text transform="rotate(-46.4)" x="-302">H 182 bonneuil</text><text transform="rotate(-45.5)" x="-302">H 181 bonneuil</text><text transform="rotate(-44.6)" x="-302">NCTC 10498</text><text transform="rotate(-43.7)" x="-302">H 180 bonneuil</text><text transform="rotate(-42.8)" x="-302">S3 7</text><text transform="rotate(-41.9)" x="-302">H 46 Sm</text><text transform="rotate(-41)" x="-302">A7 2015</text><text transform="rotate(-40.1)" x="-302">H 219</text><text transform="rotate(-39.2)" x="-302">H 213</text><text transform="rotate(-38.3)" x="-302">A1 13</text><text transform="rotate(-37.4)" x="-302">A1 160045 seinemaritime</text><text transform="rotate(-36.5)" x="-302">BB_SMS</text><text transform="rotate(-35.6)" x="-302">ZC_2015</text><text transform="rotate(-34.7)" x="-302">SMUR</text><text transform="rotate(-33.8)" x="-302">ICU3</text><text transform="rotate(-32.9)" x="-302">BM-16006</text><text transform="rotate(-32)" x="-302">AB_2013</text><text transform="rotate(-31.1)" x="-302">H 186 poitiers</text><text transform="rotate(-30.2)" x="-302">E39_SMAL</text><text transform="rotate(-29.3)" x="-302">SM-15122</text><text transform="rotate(-28.4)" x="-302">A2734</text><text transform="rotate(-27.5)" x="-302">EA23</text><text transform="rotate(-26.6)" x="-302">H 72 montpellier</text><text transform="rotate(-25.7)" x="-302">A2 107839 valdoise</text><text transform="rotate(-24.8)" x="-302">A4 183397 paris</text><text transform="rotate(-23.9)" x="-302">A1 120369 lorient</text><text transform="rotate(-23)" x="-302">A3 209295 herault</text><text transform="rotate(-22.1)" x="-302">SmH3_2013</text><text transform="rotate(-21.2)" x="-302">H 117 osseam</text><text transform="rotate(-20.3)" x="-302">324_SMAL</text><text transform="rotate(-19.4)" x="-302">378_SMAL</text><text transform="rotate(-18.5)" x="-302">272_SMAL</text><text transform="rotate(-17.6)" x="-302">1502_SMAL</text><text transform="rotate(-16.7)" x="-302">H 112 st nazaire</text><text transform="rotate(-15.8)" x="-302">H 167 caen</text><text transform="rotate(-14.9)" x="-302">OC_2009</text><text transform="rotate(-14)" x="-302">A1 128855 moselle</text><text transform="rotate(-13.1)" x="-302">1600_SMAL</text><text transform="rotate(-12.2)" x="-302">A1 134884 gironde</text><text transform="rotate(-11.3)" x="-302">1005_SMAL</text>
</g>
<g>
<text transform="rotate(-89.6)" x="302">H 92868 A1</text><text transform="rotate(-88.7)" x="302">606_SMAL</text><text transform="rotate(-87.8)" x="302">H 180 raon</text><text transform="rotate(-86.9)" x="302">B5</text><text transform="rotate(-86)" x="302">H 202 saintmaxens</text><text transform="rotate(-85.1)" x="302">(SMB5)</text><text transform="rotate(-84.2)" x="302">H 197 Saytone</text><text transform="rotate(-83.3)" x="302">A1 179562 vallauris</text><text transform="rotate(-82.4)" x="302">A1 175748 saintmaximine</text><text transform="rotate(-81.5)" x="302">A1 128999 hautsrhin</text><text transform="rotate(-80.6)" x="302">A1 179786 belmontsur</text>
<text transform="rotate(-79.7)" x="302">A1 179040 loireatlantique</text><text transform="rotate(-78.8)" x="302">Mul1</text><text transform="rotate(-77.9)" x="302">A1 165923 ain</text><text transform="rotate(-77)" x="302">A1 165758 ain</text><text transform="rotate(-76.1)" x="302">A1 165759 jura</text><text transform="rotate(-75.2)" x="302">SM41</text><text transform="rotate(-74.3)" x="302">A1 13</text><text transform="rotate(-73.4)" x="302">A1 126392 poitiers</text><text transform="rotate(-72.5)" x="302">A1 126385 vienne</text><text transform="rotate(-71.6)" x="302">A1 126587 vienne</text><text transform="rotate(-70.7)" x="302">A1 126582 lamanche</text><text transform="rotate(-69.8)" x="302">SM22</text><text transform="rotate(-68.9)" x="302">SM42</text><text transform="rotate(-68)" x="302">A1 126328 calvados</text><text transform="rotate(-67.1)" x="302">A1 126381 calvados</text><text transform="rotate(-66.2)" x="302">A1 126385 calvados</text><text transform="rotate(-65.3)" x="302">A1 126399 corse</text><text transform="rotate(-64.4)" x="302">A1 126389 nord</text><text transform="rotate(-63.5)" x="302">A1 126393 ponthieu</text><text transform="rotate(-62.6)" x="302">A1 126397 picardie</text><text transform="rotate(-61.7)" x="302">A1 126373 oise</text><text transform="rotate(-60.8)" x="302">A1 126325 oise</text><text transform="rotate(-59.9)" x="302">A1 126340 aisne</text>
<text transform="rotate(-59)" x="302">Mul2</text><text transform="rotate(-58.1)" x="302">AMC_1NB87</text><text transform="rotate(-57.2)" x="302">H 137 1NBS7</text><text transform="rotate(-56.3)" x="302">H 138 beauvais</text><text transform="rotate(-55.4)" x="302">A1 138 seinemaritime</text><text transform="rotate(-54.5)" x="302">H 9 lens</text><text transform="rotate(-53.6)" x="302">H 10 lens</text><text transform="rotate(-52.7)" x="302">H 12 loos</text><text transform="rotate(-51.8)" x="302">H 13 vannes</text>
<text transform="rotate(-50.9)" x="302">A1 126881 loireatlantique</text><text transform="rotate(-50)" x="302">A1 126869 loireatlantique</text><text transform="rotate(-49.1)" x="302">A1 126867 morbihan</text><text transform="rotate(-48.2)" x="302">A1 126863 finistere</text><text transform="rotate(-47.3)" x="302">A1 126957 cantal</text><text transform="rotate(-46.4)" x="302">A1 126851 morbihan</text><text transform="rotate(-45.5)" x="302">A1 126851 vendee</text><text transform="rotate(-44.6)" x="302">A1 6387</text><text transform="rotate(-43.7)" x="302">Q_2019</text><text transform="rotate(-42.8)" x="302">H 181 toulouse</text><text transform="rotate(-41.9)" x="302">H 179 toulouse</text><text transform="rotate(-41)" x="302">LM18</text><text transform="rotate(-40.1)" x="302">H 168 sarthe</text><text transform="rotate(-39.2)" x="302">1112</text><text transform="rotate(-38.3)" x="302">1168</text><text transform="rotate(-37.4)" x="302">0527_SMAL</text><text transform="rotate(-36.5)" x="302">1118</text><text transform="rotate(-35.6)" x="302">1268</text><text transform="rotate(-34.7)" x="302">1128</text><text transform="rotate(-33.8)" x="302">GM0021</text><text transform="rotate(-32.9)" x="302">SM0029</text><text transform="rotate(-32)" x="302">A1 126997 corse</text><text transform="rotate(-31.1)" x="302">173_SMAL</text><text transform="rotate(-30.2)" x="302">178_SMAL</text><text transform="rotate(-29.3)" x="302">72_SMAL</text><text transform="rotate(-28.4)" x="302">461_SMAL</text>
<text transform="rotate(-27.5)" x="302">Lmh 22073</text><text transform="rotate(-26.6)" x="302">CY_2002_STM1</text><text transform="rotate(-25.7)" x="302">405_SMAL</text><text transform="rotate(-24.8)" x="302">A1 160884 normandie</text><text transform="rotate(-23.9)" x="302">H 235 toulouse</text><text transform="rotate(-23)" x="302">B719</text><text transform="rotate(-22.1)" x="302">B18</text><text transform="rotate(-21.2)" x="302">B33</text><text transform="rotate(-20.3)" x="302">EA21</text><text transform="rotate(-19.4)" x="302">H 166 bourgoin</text><text transform="rotate(-18.5)" x="302">A1 128073 hautevienne</text><text transform="rotate(-17.6)" x="302">A1 183730 hautevienne</text><text transform="rotate(-16.7)" x="302">A1 133496 paris</text><text transform="rotate(-15.8)" x="302">A1 133498 seineetmarne</text>
<text transform="rotate(-14.9)" x="302">E3561</text><text transform="rotate(-14)" x="302">H 202 seinemaritime</text><text transform="rotate(-13.1)" x="302">A7 101676 calvados</text><text transform="rotate(-12.2)" x="302">DUC_Emi14</text><text transform="rotate(-11.3)" x="302">H 159 creil</text><text transform="rotate(-10.4)" x="302">RNO</text><text transform="rotate(-9.5)" x="302">A1 157715 orne</text><text transform="rotate(-8.6)" x="302">A1 157696 orne</text><text transform="rotate(-7.7)" x="302">A1 157724 orne</text><text transform="rotate(-6.8)" x="302">A6 150813 beauvaisdurhone</text><text transform="rotate(-5.9)" x="302">A1 171767 calvados</text><text transform="rotate(-5)" x="302">131_SMAL</text><text transform="rotate(-4.1)" x="302">A1 184804 loireatlantique</text><text transform="rotate(-3.2)" x="302">H 14 creteil</text><text transform="rotate(-2.3)" x="302">853_SMAL</text><text transform="rotate(-1.4)" x="302">C567</text><text transform="rotate(-.5)" x="302">H 185 bayonne</text><text transform="rotate(.4)" x="302">A2 1265-3 valdemarne</text><text transform="rotate(1.3)" x="302">30_SMAL</text><text transform="rotate(2.2)" x="302">A1 133584 sarthe</text><text transform="rotate(3.1)" x="302">A1 138322 sarthe</text><text transform="rotate(4)" x="302">A1 107080 lotetgaronne</text><text transform="rotate(4.9)" x="302">A1 105876 calvados</text><text transform="rotate(5.8)" x="302">A1 120472 marnemaine</text><text transform="rotate(6.7)" x="302">A1 108610 calvados</text><text transform="rotate(7.6)" x="302">A1 184859 drome</text><text transform="rotate(8.5)" x="302">A2 107734 manche</text><text transform="rotate(9.4)" x="302">A2 107265 isere</text><text transform="rotate(10.3)" x="302">A1 124765 vienne</text><text transform="rotate(11.2)" x="302">A1 155558 manche</text><text transform="rotate(12.1)" x="302">H 205 caen</text><text transform="rotate(13)" x="302">A1 135836 sarthe</text><text transform="rotate(13.9)" x="302">S3</text><text transform="rotate(14.8)" x="302">H 219 rouennais</text><text transform="rotate(15.7)" x="302">A1 101033 charentemaritime</text><text transform="rotate(16.6)" x="302">H 22 creteil</text><text transform="rotate(17.5)" x="302">H 242 saintdenis</text><text transform="rotate(18.4)" x="302">A1 101304 nord</text><text transform="rotate(19.3)" x="302">A1 108259 loiretcalvados</text><text transform="rotate(20.2)" x="302">A1 108565 morbihan</text><text transform="rotate(21.1)" x="302">H 50 creteil</text>
<text transform="rotate(22)" x="302">JU751.5</text><text transform="rotate(22.9)" x="302">A1 178081 eure</text><text transform="rotate(23.8)" x="302">A1 169318 oise</text><text transform="rotate(24.7)" x="302">A1 183838 oise</text><text transform="rotate(25.6)" x="302">A1 178047 essonne</text><text transform="rotate(26.5)" x="302">A1 184802 sequence</text><text transform="rotate(27.4)" x="302">A1 122512 yvelines</text><text transform="rotate(28.3)" x="302">H 164 saintdenis</text>
<text transform="rotate(29.2)" x="302">H 70 hotedevaloir</text><text transform="rotate(30.1)" x="302">SM1_2069</text><text transform="rotate(31)" x="302">BS1_2069</text><text transform="rotate(31.9)" x="302">Au_2070_STM2</text><text transform="rotate(32.8)" x="302">SM-00580</text><text transform="rotate(33.7)" x="302">SM-0041.1</text><text transform="rotate(34.6)" x="302">SM 0043.2</text><text transform="rotate(35.5)" x="302">H_1023_SMAL</text><text transform="rotate(36.4)" x="302">H 24 210</text><text transform="rotate(37.3)" x="302">H 27 12_3566</text><text transform="rotate(38.2)" x="302">H 4 bonneuil</text><text transform="rotate(39.1)" x="302">A1 121869 corse</text><text transform="rotate(40)" x="302">H5 85 bayonne</text>
<text transform="rotate(41.8)" x="302">H 40 lyon</text><text transform="rotate(42.7)" x="302">H 41 lyon</text><text transform="rotate(43.6)" x="302">A1 110 bonneuil</text><text transform="rotate(44.5)" x="302">H 113 Montreuil</text><text transform="rotate(45.4)" x="302">H 17 lyon</text><text transform="rotate(46.3)" x="302">H 16 lyon</text><text transform="rotate(47.2)" x="302">H 111 bonneuil</text><text transform="rotate(48.1)" x="302">H 114 salon</text><text transform="rotate(49)" x="302">H 115 salon</text><text transform="rotate(49.9)" x="302">A1 129063 seinemaritime</text><text transform="rotate(50.8)" x="302">H 131 Paris</text><text transform="rotate(51.7)" x="302">ECSMB90</text><text transform="rotate(52.6)" x="302">87 ECUADOR505_80</text><text transform="rotate(53.5)" x="302">Jorsik007</text><text transform="rotate(54.4)" x="302">Jorsik217</text><text transform="rotate(55.3)" x="302">1179</text><text transform="rotate(56.2)" x="302">H 96 STM1</text><text transform="rotate(57.1)" x="302">1203_STM1</text><text transform="rotate(58)" x="302">SM2020</text><text transform="rotate(58.9)" x="302">H 77 6081</text><text transform="rotate(59.8)" x="302">H 79 creil</text><text transform="rotate(60.7)" x="302">H 122 Garches</text><text transform="rotate(61.6)" x="302">H 123 Garches</text><text transform="rotate(62.5)" x="302">H 33 6061</text><text transform="rotate(63.4)" x="302">M6 2022 STM1</text><text transform="rotate(64.3)" x="302">H 85 6060</text><text transform="rotate(65.2)" x="302">H 24 Garches</text><text transform="rotate(66.1)" x="302">H 29 Garches</text><text transform="rotate(67)" x="302">P2151 Garches</text><text transform="rotate(67.9)" x="302">375 ECUADOR505_372</text><text transform="rotate(68.8)" x="302">BL7 2052_SMAL</text><text transform="rotate(69.7)" x="302">BA7 2052_SMAL</text><text transform="rotate(70.6)" x="302">A1 100 Dublin</text><text transform="rotate(71.5)" x="302">ATCC 13637</text><text transform="rotate(72.4)" x="302">ATCC 13 Ain</text><text transform="rotate(73.3)" x="302">NBRC 14161</text><text transform="rotate(74.2)" x="302">S267</text><text transform="rotate(75.1)" x="302">H 126 Saintbenois</text><text transform="rotate(76)" x="302">SmaC 2010</text><text transform="rotate(76.9)" x="302">6M 2011</text><text transform="rotate(77.8)" x="302">AB 2013</text><text transform="rotate(78.7)" x="302">SmaC 2011</text><text transform="rotate(79.6)" x="302">A1 104865 Southgarenne</text><text transform="rotate(80.5)" x="302">A1 157589 Saintgarenne</text><text transform="rotate(81.4)" x="302">EPM1</text><text transform="rotate(82.3)" x="302">NCTC 10258</text><text transform="rotate(83.2)" x="302">DC 2007</text><text transform="rotate(84.1)" x="302">Fraiz 2005 STM3</text><text transform="rotate(85)" x="302">PHS 2006 STM1</text><text transform="rotate(85.9)" x="302">M3466</text><text transform="rotate(86.8)" x="302">0000PPY</text><text transform="rotate(87.7)" x="302">2000 32</text><text transform="rotate(88.6)" x="302">2000 3Z</text><text transform="rotate(89.5)" x="302">T1B2 3Z</text>
</g>
</g>
</g>
<g id="clade-labels">
<text class="n" transform="translate(312 347) rotate(-64)">#1</text>
<text class="n" transform="translate(329 320) rotate(-58)">#8</text>
<text class="n" transform="translate(377 252) rotate(-46)">#3</text>
<text class="n" transform="translate(445 198) rotate(-30)">#J</text>
<text class="n" transform="translate(462 187) rotate(-27)">#I</text>
<text class="n" transform="translate(546 153) rotate(-14)">#C</text>
<text class="n" transform="translate(673 141) rotate(4)">#D</text>
<text class="n" transform="translate(778 164) rotate(20)">#5</text>
<text class="n" transform="translate(860 207) rotate(34)">#H</text>
<text class="n" transform="translate(930 272) rotate(52)">#F</text>
<text class="n" transform="translate(984 358) rotate(68)">#4</text>
<text class="n" transform="translate(1014 510) rotate(90)">#2-a</text>
<text class="n" transform="translate(992 653) rotate(-78)">#2-b</text>
<text class="n" transform="translate(970 695) rotate(-60)">#G</text>
<text class="n" transform="translate(947 729) rotate(-54)">#7</text>
<text class="n" transform="translate(624 882)">#6</text>
<text class="n" transform="translate(291 407) rotate(-74)">#A</text>
<text class="n" transform="translate(299 408) rotate(-74)">(Smc_3)</text>
<text class="n" style="font-size:8px;font-family:'DejaVu Sans Mono',monospace" transform="translate(290 436) rotate(9)">Smc1</text>
<text class="n" transform="translate(279 470) rotate(-84)">#9-a</text>
<text class="n" transform="translate(287 468) rotate(-84)">(Smc_4)</text>
<text class="n" transform="translate(277 514) rotate(-90)">#9-b</text>
<text class="n" transform="translate(285 512) rotate(-90)">(Smc_4)</text>
</g>
</svg>
